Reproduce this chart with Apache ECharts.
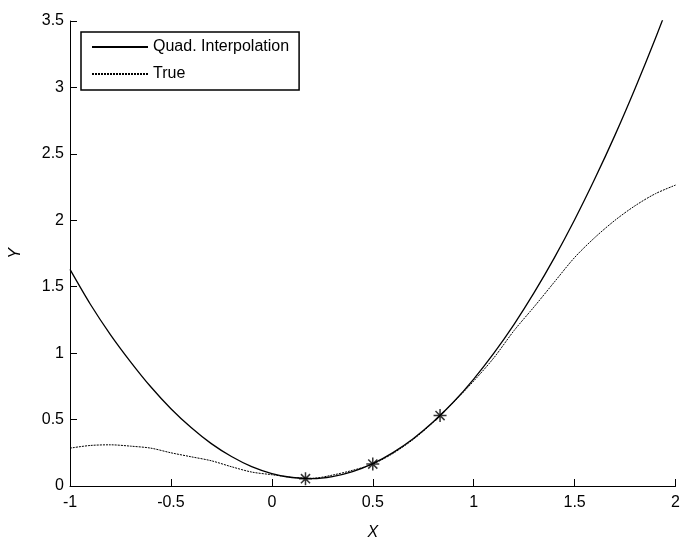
<!DOCTYPE html>
<html>
<head>
<meta charset="utf-8">
<script src="https://cdn.jsdelivr.net/npm/echarts@6/dist/echarts.min.js"></script>
<style>
  html, body { margin: 0; padding: 0; background: #fff; }
  #chart { width: 683px; height: 546px; }
</style>
</head>
<body>
<div id="chart"></div>
<script>
// sample positions along x
const xs = [-1, -0.9, -0.8, -0.7, -0.6, -0.5, -0.4, -0.3, -0.2, -0.1, 0,
  0.1, 0.2, 0.3, 0.4, 0.5, 0.6, 0.7, 0.8, 0.9, 1,
  1.1, 1.2, 1.3, 1.4, 1.5, 1.6, 1.7, 1.8, 1.9, 2]

// quadratic interpolant (goes above the top of the axes near x=2)
const quadY = [1.63, 1.37, 1.14, 0.935, 0.747, 0.582, 0.44, 0.319, 0.222, 0.146, 0.094,
  0.064, 0.056, 0.071, 0.108, 0.168, 0.251, 0.355, 0.483, 0.632, 0.805,
  1.0, 1.217, 1.457, 1.719, 2.004, 2.312, 2.641, 2.994, 3.368, 3.766]

// true function
const trueY = [0.285, 0.305, 0.31, 0.3, 0.285, 0.25, 0.22, 0.19, 0.145, 0.105, 0.085,
  0.065, 0.058, 0.082, 0.118, 0.165, 0.245, 0.35, 0.48, 0.63, 0.79,
  0.965, 1.17, 1.35, 1.536, 1.72, 1.87, 2.0, 2.11, 2.2, 2.265]

// interpolation nodes
const nodeX = [0.1667, 0.5, 0.8333]
const nodeY = [0.055, 0.165, 0.53]

const font = 'Liberation Sans, Arial, sans-serif'
const zip = (a, b) => a.map((v, i) => [v, b[i]])

const asterisk = 'path://M5,0 L5,10 M0,5 L10,5 M1.5,1.5 L8.5,8.5 M8.5,1.5 L1.5,8.5'

const axisCommon = {
  type: 'value',
  axisLine: { show: true, onZero: false, lineStyle: { color: '#000', width: 1 } },
  axisTick: { show: true, inside: true, length: 7, lineStyle: { color: '#000' } },
  splitLine: { show: false },
  nameLocation: 'middle',
  nameTextStyle: { color: '#000', fontFamily: font, fontSize: 16, fontStyle: 'italic' },
}

const chart = echarts.init(document.getElementById('chart'))
chart.setOption({
  animation: false,
  backgroundColor: '#fff',
  grid: { left: 69, right: 5, top: 21, bottom: 45, containLabel: false },
  legend: {
    left: 81,
    top: 32,
    orient: 'vertical',
    borderColor: '#000',
    borderWidth: 1.5,
    padding: [7, 10, 8, 10],
    itemWidth: 56,
    itemHeight: 16,
    itemGap: 11,
    itemStyle: { opacity: 0 },
    textStyle: { color: '#000', fontFamily: font, fontSize: 16 },
    data: ['Quad. Interpolation', 'True'],
  },
  xAxis: {
    ...axisCommon,
    min: -1, max: 2, interval: 0.5,
    name: 'X', nameGap: 39,
    axisLabel: { color: '#000', fontFamily: font, fontSize: 16, margin: 9 },
  },
  yAxis: {
    ...axisCommon,
    min: 0, max: 3.5, interval: 0.5,
    name: 'Y', nameGap: 46,
    axisLabel: { color: '#000', fontFamily: font, fontSize: 16, margin: 6 },
  },
  series: [
    {
      name: 'Quad. Interpolation',
      type: 'line',
      data: zip(xs, quadY),
      smooth: 0.3,
      symbol: 'none',
      clip: true,
      lineStyle: { color: '#000', width: 1.3 },
      itemStyle: { color: '#000' },
    },
    {
      name: 'True',
      type: 'line',
      data: zip(xs, trueY),
      smooth: 0.3,
      symbol: 'none',
      lineStyle: { color: '#000', width: 1, type: [2, 1] },
      itemStyle: { color: '#000' },
    },
    {
      name: 'nodes',
      type: 'scatter',
      data: zip(nodeX, nodeY),
      symbol: asterisk,
      symbolSize: 13,
      itemStyle: { color: 'none', borderColor: '#000', borderWidth: 1.5 },
      z: 5,
    },
  ],
})
</script>
</body>
</html>
